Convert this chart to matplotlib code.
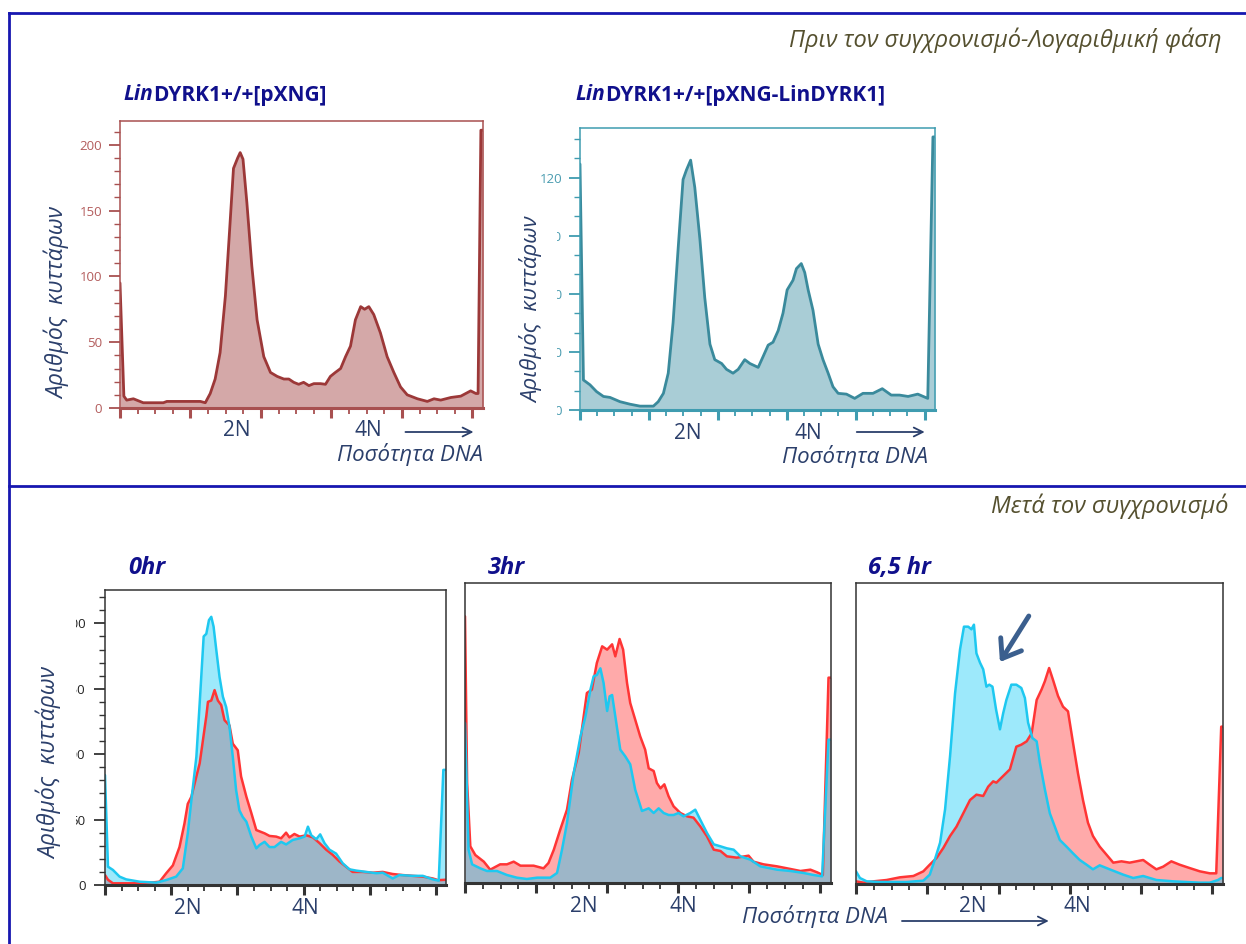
import matplotlib
matplotlib.use("Agg")
import matplotlib.pyplot as plt
from matplotlib.lines import Line2D
from matplotlib.ticker import MultipleLocator, NullFormatter
from matplotlib import transforms
from matplotlib.transforms import Bbox, TransformedBbox

plt.rcParams['font.family'] = ['Open Sans', 'DejaVu Sans']

W, H = 1246, 944

# --- data (channel, cell count) ---
tl_ch = [0, 11, 19, 38, 66, 123, 133, 228, 242, 256, 270, 284, 299, 311, 322, 334, 341, 349, 360, 374,
         389, 408, 427, 446, 465, 479, 493, 507, 521, 536, 550, 569, 583, 597, 611, 626, 640, 654, 668, 683,
         694, 706, 720, 739, 758, 777, 796, 815, 844, 872, 891, 910, 939, 967, 995, 1010, 1016, 1024, 1030]
tl_n = [95, 9, 6, 7, 4, 4, 5, 5, 4, 11, 22, 42, 85, 135, 182, 190, 194, 189, 156, 108,
        67, 39, 27, 24, 22, 22, 19.5, 18, 19.5, 17, 18.5, 18.5, 18, 24, 27, 30, 39, 47, 67, 77,
        75, 77, 71, 57, 39, 27, 16, 10, 7, 5, 7, 6, 8, 9, 13, 11, 11, 211, 211]

tr_ch = [0, 10, 29, 48, 68, 87, 116, 145, 174, 213, 227, 242, 256, 270, 285, 299, 309, 321, 333, 348,
         362, 377, 391, 411, 425, 444, 459, 478, 493, 517, 531, 546, 560, 575, 589, 601, 618, 628, 642, 652,
         662, 676, 691, 705, 720, 734, 749, 773, 797, 821, 850, 877, 903, 927, 952, 980, 1009, 1024, 1030]
tr_n = [127, 15.5, 13, 9.5, 7, 6.5, 4.3, 3, 2, 2, 4.3, 8.6, 19, 45, 84, 119, 124, 129, 115, 88,
        58, 34, 26, 24, 21, 19, 21, 26, 24, 22, 27.5, 33.5, 35, 41, 50, 62, 67, 73, 75.6, 71,
        62, 51.5, 34, 26, 19, 12, 8.6, 8.2, 6, 8.6, 8.6, 11, 7.7, 7.7, 7, 8.2, 6, 141, 141]

h0_red_ch = [0, 9, 24, 85, 145, 165, 185, 205, 225, 240, 250, 261, 276, 286, 296, 306, 311, 321, 331, 341,
             351, 361, 376, 386, 401, 411, 427, 442, 457, 467, 482, 497, 517, 532, 547, 557, 572, 588, 608, 628,
             648, 668, 688, 708, 728, 748, 779, 809, 839, 869, 899, 930, 960, 990, 1005, 1015, 1028]
h0_red_n = [7.6, 4, 1.3, 1.3, 2, 2.5, 9, 15, 29, 47, 62, 67.5, 83, 93, 111, 129, 140, 141, 149, 141,
            137.6, 126, 122, 108, 103, 83, 67.5, 55, 42, 41, 39.5, 37.5, 37, 35.7, 40, 36.4, 39, 37, 38, 36.4,
            32, 27, 23, 18, 14, 10, 10, 9.4, 10, 8.4, 7.6, 7, 6.4, 5, 3.8, 3.8, 4]

h0_blue_ch = [0, 9, 24, 44, 64, 105, 155, 185, 215, 235, 250, 261, 276, 286, 298, 306, 314, 321, 328, 336,
              346, 356, 366, 376, 386, 396, 406, 416, 427, 442, 457, 467, 482, 497, 512, 532, 547, 567, 588, 603,
              613, 623, 638, 650, 663, 678, 698, 718, 738, 759, 789, 819, 839, 869, 889, 930, 960, 990, 1008, 1022, 1028]
h0_blue_n = [84, 14, 11.5, 6.4, 4.3, 2.5, 1.8, 3.8, 6.4, 12.7, 39.5, 65, 98, 139, 190, 192, 202.5, 205, 197.5, 180,
             159, 144, 136, 121, 98, 72.6, 57, 52, 48.4, 37, 28, 30.6, 33, 29, 29, 33, 31, 34.4, 35.7, 37,
             44.6, 38, 35, 38.7, 32, 27, 24, 16.6, 12, 11, 10, 9, 9.4, 5, 7.6, 7, 7, 4.3, 3.3, 88, 88]

h3_red_ch = [0, 6, 15, 29, 53, 71, 99, 118, 137, 156, 193, 221, 235, 250, 268, 287, 301, 320, 334, 343,
             357, 371, 386, 400, 414, 423, 435, 445, 456, 465, 479, 493, 507, 517, 531, 540, 550, 561, 573, 587,
             606, 625, 643, 662, 681, 700, 719, 737, 765, 798, 812, 840, 878, 916, 944, 972, 991, 1007, 1023, 1030]
h3_red_n = [200, 75, 27.5, 21, 16, 10, 14, 14, 16, 13, 13, 11, 15, 25, 40, 55, 77.5, 97.5, 125, 142.5,
            145, 165, 177.5, 175, 179, 170, 183, 175, 150, 135, 122.5, 110, 100, 86, 84, 75, 71, 74, 65, 57.5,
            52.5, 50, 49, 42.5, 35, 25, 24, 20, 19, 20.5, 16, 14, 12.5, 10.5, 9, 10, 8, 6, 154, 154]

h3_blue_ch = [0, 10, 20, 43, 62, 90, 118, 146, 174, 203, 240, 259, 273, 287, 306, 325, 339, 353, 362, 371,
              381, 390, 400, 407, 414, 423, 437, 451, 465, 479, 498, 517, 531, 545, 559, 573, 587, 601, 615, 634,
              648, 662, 681, 700, 719, 737, 756, 775, 803, 831, 878, 916, 953, 981, 1005, 1023, 1030]
h3_blue_n = [120, 25, 14, 11, 9, 9, 6, 4, 3, 4, 4, 7.5, 25, 45, 82.5, 110, 125, 145, 155, 156,
             161, 150, 129, 140, 141, 125, 100, 95, 89, 70, 54, 56, 52.5, 56, 52.5, 51, 51, 52.5, 50, 52.5,
             55, 47.5, 37.5, 29, 27.5, 26, 25, 20, 17.5, 12.5, 10, 9, 7.5, 6, 5, 107.5, 107.5]

h65_red_ch = [0, 21, 49, 86, 123, 161, 189, 207, 226, 245, 264, 282, 301, 320, 338, 357, 371, 385, 394, 413,
              432, 450, 464, 479, 493, 507, 521, 530, 542, 553, 567, 581, 595, 609, 623, 637, 651, 665, 684, 703,
              722, 745, 768, 787, 806, 824, 843, 862, 885, 908, 936, 965, 993, 1011, 1025, 1030]
h65_red_n = [2, 1, 2, 3, 5, 6, 9.5, 14.5, 19.5, 27, 36, 43, 53, 63, 67, 66, 73, 77, 76, 81,
             86, 103, 104.5, 107, 113, 138, 146, 152, 162, 153, 141, 133, 129.5, 106, 83, 63, 46, 36, 28, 22,
             16, 17, 16, 17, 18, 14.5, 11, 13, 17, 14.5, 12, 9.5, 8, 8, 118, 118]

h65_blue_ch = [0, 11, 30, 67, 142, 189, 207, 221, 236, 250, 264, 278, 292, 303, 315, 324, 331, 338, 348, 357,
               366, 374, 383, 393, 404, 413, 422, 436, 450, 464, 474, 483, 495, 507, 516, 530, 544, 558, 572, 591,
               609, 628, 647, 665, 684, 712, 750, 778, 806, 843, 890, 965, 993, 1016, 1025, 1030]
h65_blue_n = [9.5, 4.5, 2, 1.5, 1.5, 2.5, 7, 18, 31, 56, 96, 143, 176, 193, 193, 191, 194.5, 173, 166, 161,
              148, 149.5, 148, 131, 116, 128, 138, 149.5, 149.5, 147, 139.5, 121, 109.5, 107, 91, 71, 53, 43, 33, 28,
              23, 18, 14.5, 11, 14, 11, 7, 4.5, 6, 3, 2, 1, 1, 3, 4.5, 4.5]

navy = '#10108c'
txt_blue = '#2b3f6b'
olive = '#55502f'
frame_blue = '#1717b0'

fig = plt.figure(figsize=(W / 100, H / 100), dpi=100)


def box(x0, y0, x1, y1):
    return [x0 / W, 1 - y1 / H, (x1 - x0) / W, (y1 - y0) / H]


def setup(ax, ymax, spine_col, yticks=None, minor_y=10, ylab_col='k'):
    ax.set_xlim(0, 1030)
    ax.set_ylim(0, ymax)
    for s in ax.spines.values():
        s.set_color(spine_col)
        s.set_linewidth(1.1)
    ax.spines['bottom'].set_linewidth(2.2)
    ax.set_xticks(range(0, 1001, 200))
    ax.xaxis.set_minor_locator(MultipleLocator(50))
    ax.xaxis.set_major_formatter(NullFormatter())
    ax.tick_params(axis='x', which='major', length=7, width=2.2, color=spine_col, direction='out')
    ax.tick_params(axis='x', which='minor', length=4, width=1.3, color=spine_col, direction='out')
    if yticks is None:
        ax.set_yticks([])
    else:
        ax.set_yticks(yticks)
        ax.yaxis.set_minor_locator(MultipleLocator(minor_y))
        ax.tick_params(axis='y', which='major', length=8, width=1.3, color=spine_col,
                       labelsize=9.5, labelcolor=ylab_col, pad=5)
        ax.tick_params(axis='y', which='minor', length=4, width=1.0, color=spine_col)


def clip_ylabels(ax, x_px, keep=()):
    clip = TransformedBbox(Bbox([[x_px / W, 0], [1, 1]]), fig.transFigure)
    for t, v in zip(ax.yaxis.get_major_ticks(), ax.get_yticks()):
        if v in keep:
            continue
        t.label1.set_clip_box(clip)
        t.label1.set_clip_on(True)


def below(ax, px):
    return transforms.offset_copy(ax.get_xaxis_transform(), fig, y=-px, units='dots')


def ploidy(ax, x2, x4, off=23):
    tr = below(ax, off)
    ax.text(x2, 0, '2N', transform=tr, ha='center', va='center', fontsize=15, color=txt_blue)
    ax.text(x4, 0, '4N', transform=tr, ha='center', va='center', fontsize=15, color=txt_blue)


def dna_arrow(ax, x0, x1, off):
    tr = below(ax, off)
    ax.annotate('', xy=(x1, 0), xycoords=tr, xytext=(x0, 0), textcoords=tr,
                arrowprops=dict(arrowstyle='->', color=txt_blue, lw=1.3,
                                shrinkA=0, shrinkB=0, mutation_scale=16),
                annotation_clip=False)


def curve(ax, ch, n, col, lw=2):
    ax.plot(ch, n, color=col, lw=lw, solid_joinstyle='round', solid_capstyle='round')


# ---------------- top row ----------------
ax1 = fig.add_axes(box(120, 121, 483, 408))
setup(ax1, 218, '#a85050', yticks=[0, 50, 100, 150, 200], ylab_col='#b35c5c')
ax1.fill_between(tl_ch, tl_n, color='#d4a8a8', lw=0)
curve(ax1, tl_ch, tl_n, '#9c3838')
ploidy(ax1, 332, 705)
dna_arrow(ax1, 810, 1003, 24)

ax2 = fig.add_axes(box(580, 128, 935, 410))
setup(ax2, 145.6, '#3f9cb0', yticks=[0, 30, 60, 90, 120], ylab_col='#4a9cb0')
ax2.fill_between(tr_ch, tr_n, color='#a9cdd6', lw=0)
curve(ax2, tr_ch, tr_n, '#3a8a9c')
ploidy(ax2, 314, 662)
dna_arrow(ax2, 803, 1000, 22)
clip_ylabels(ax2, 557, keep=(120,))

for ax, x0, title_rest in [(ax1, 123, 'DYRK1+/+[pXNG]'), (ax2, 575, 'DYRK1+/+[pXNG-LinDYRK1]')]:
    t = fig.text(x0 / W, 1 - 95 / H, 'Lin', style='italic', weight='bold', color=navy,
                 fontsize=15, va='center')
    ax.annotate(title_rest, xy=(1, 0), xycoords=t, va='bottom', ha='left', weight='bold',
                color=navy, fontsize=15, annotation_clip=False)

fig.text(483 / W, 1 - 455 / H, 'Ποσότητα DNA', style='italic', ha='right', va='center',
         fontsize=16, color=txt_blue)
fig.text(928 / W, 1 - 457 / H, 'Ποσότητα DNA', style='italic', ha='right', va='center',
         fontsize=16, color=txt_blue)
fig.text(58 / W, 1 - 303 / H, 'Αριθμός  κυττάρων', style='italic', rotation=90,
         ha='center', va='center', fontsize=16.5, color=txt_blue)
fig.text(532 / W, 1 - 310 / H, 'Αριθμός  κυττάρων', style='italic', rotation=90,
         ha='center', va='center', fontsize=16, color=txt_blue)

# ---------------- bottom row ----------------
red_line, red_fill = '#ff3535', '#ff3b3b'
blue_line, blue_fill = '#1ec8f0', '#0ccaf7'


def overlay(ax, rc, rn, bc, bn):
    ax.fill_between(rc, rn, color=red_fill, alpha=0.43, lw=0)
    curve(ax, rc, rn, red_line, 1.8)
    ax.fill_between(bc, bn, color=blue_fill, alpha=0.4, lw=0)
    curve(ax, bc, bn, blue_line, 1.8)


ax3 = fig.add_axes(box(105, 590, 446, 885))
setup(ax3, 225.5, '#333333', yticks=[0, 50, 100, 150, 200], ylab_col='#222222')
ax3.tick_params(axis='y', pad=6)
overlay(ax3, h0_red_ch, h0_red_n, h0_blue_ch, h0_blue_n)
ploidy(ax3, 250, 606)
clip_ylabels(ax3, 76)

ax4 = fig.add_axes(box(465, 583, 831, 883))
setup(ax4, 225, '#333333')
overlay(ax4, h3_red_ch, h3_red_n, h3_blue_ch, h3_blue_n)
ploidy(ax4, 335, 613, off=24)

ax5 = fig.add_axes(box(856, 583, 1223, 884))
setup(ax5, 225.75, '#333333')
overlay(ax5, h65_red_ch, h65_red_n, h65_blue_ch, h65_blue_n)
ploidy(ax5, 328, 620, off=23)
dna_arrow(ax5, 129, 541, 37)
ax5.annotate('', xy=(404, 166.5), xytext=(485, 201),
             arrowprops=dict(arrowstyle='->, head_length=0.55, head_width=0.4', color='#3b5f8e',
                             lw=3.5, shrinkA=0, shrinkB=0, mutation_scale=22))

for x0, lab in [(128, '0hr'), (488, '3hr'), (868, '6,5 hr')]:
    fig.text(x0 / W, 1 - 568 / H, lab, style='italic', weight='bold', color=navy,
             fontsize=17, va='center')

fig.text(888 / W, 1 - 916 / H, 'Ποσότητα DNA', style='italic', ha='right', va='center',
         fontsize=16, color=txt_blue)
fig.text(50 / W, 1 - 763 / H, 'Αριθμός  κυττάρων', style='italic', rotation=90,
         ha='center', va='center', fontsize=16.5, color=txt_blue)

# ---------------- section headers and frame ----------------
fig.text(1222 / W, 1 - 40 / H, 'Πριν τον συγχρονισμό-Λογαριθμική φάση', style='italic',
         ha='right', va='center', fontsize=17, color=olive)
fig.text(1228 / W, 1 - 506 / H, 'Μετά τον συγχρονισμό', style='italic',
         ha='right', va='center', fontsize=17, color=olive)

fig.add_artist(Line2D([9 / W, 1], [1 - 13 / H] * 2, color=frame_blue, lw=2))
fig.add_artist(Line2D([9 / W, 1], [1 - 486 / H] * 2, color=frame_blue, lw=2))
fig.add_artist(Line2D([9 / W] * 2, [1 - 13 / H, 0], color=frame_blue, lw=2))

fig.savefig('out.png', dpi=100)
